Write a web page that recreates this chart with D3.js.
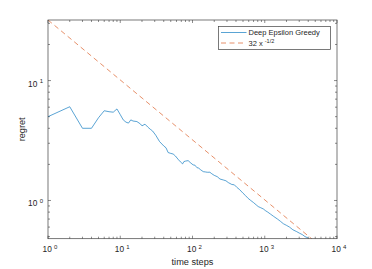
<!DOCTYPE html>
<html>
<head>
<meta charset="utf-8">
<script src="https://cdn.jsdelivr.net/npm/d3@7"></script>
<style>
  body { margin: 0; background: #fff; }
  svg { display: block; font-family: "Liberation Sans", Arial, sans-serif; }
</style>
</head>
<body>
<svg id="chart" width="372" height="269"></svg>
<script>
// (log-log)
const steps = [1, 2, 3, 4, 5, 6, 7, 8, 9, 10, 11, 12, 13, 14, 15, 17, 19, 20, 22, 24, 26, 28, 31, 35, 40, 43, 46, 50, 54, 58, 63, 68, 73, 76, 80, 87, 95, 102, 108, 115, 122, 130, 141, 150, 160, 174, 185, 200, 220, 240, 270, 290, 313, 350, 380, 409, 450, 500, 540, 590, 640, 700, 760, 812, 880, 955, 1030, 1100, 1200, 1314, 1500, 1650, 1810, 2000, 2200, 2450, 2765, 3000, 3300, 3600, 4000];
const regret = [5.0, 6.05, 4.0, 4.0, 4.9, 5.6, 5.5, 5.45, 5.8, 5.2, 4.7, 4.5, 4.42, 4.7, 4.6, 4.55, 4.35, 4.19, 4.33, 4.1, 3.93, 3.8, 3.5, 3.1, 2.85, 2.75, 2.51, 2.47, 2.44, 2.35, 2.21, 2.1, 2.02, 2.11, 2.13, 2.15, 2.05, 1.98, 1.97, 1.88, 1.86, 1.8, 1.74, 1.73, 1.72, 1.72, 1.67, 1.62, 1.58, 1.51, 1.48, 1.46, 1.41, 1.36, 1.35, 1.29, 1.23, 1.15, 1.1, 1.04, 1.0, 0.96, 0.92, 0.89, 0.87, 0.85, 0.82, 0.8, 0.77, 0.74, 0.7, 0.67, 0.64, 0.62, 0.6, 0.57, 0.55, 0.535, 0.52, 0.5, 0.486];
const refCoef = 32; // 32 x^-1/2
const xTickExp = [0, 1, 2, 3, 4];
const yTickExp = [0, 1];
const seriesNames = ["Deep Epsilon Greedy", "32 x"];

const blue = "#0072BD", orange = "#D95319", axisCol = "#404040", textCol = "#262626";

const svg = d3.select("#chart");
const m = {left: 48, top: 20, right: 337, bottom: 238.7};

const x = d3.scaleLog().domain([1, 1e4]).range([m.left, m.right]);
const y = d3.scaleLog().domain([0.48, 32]).range([m.bottom, m.top]);

svg.append("clipPath").attr("id", "clip")
  .append("rect").attr("x", m.left).attr("y", m.top)
  .attr("width", m.right - m.left).attr("height", m.bottom - m.top);

// ticks (inside, on all four sides)
const g = svg.append("g").attr("stroke", axisCol).attr("stroke-width", 0.6);
function minorList(lo, hi) {
  const out = [];
  for (let e = Math.floor(Math.log10(lo)); e <= Math.ceil(Math.log10(hi)); e++) {
    for (let k = 1; k < 10; k++) {
      const v = k * Math.pow(10, e);
      if (v >= lo && v <= hi) out.push({v: v, major: k === 1});
    }
  }
  return out;
}
minorList(1, 1e4).forEach(t => {
  const len = t.major ? 3 : 2;
  const px = x(t.v);
  g.append("line").attr("x1", px).attr("x2", px).attr("y1", m.bottom).attr("y2", m.bottom - len);
  g.append("line").attr("x1", px).attr("x2", px).attr("y1", m.top).attr("y2", m.top + len);
});
minorList(0.48, 32).forEach(t => {
  const len = t.major ? 3 : 2;
  const py = y(t.v);
  g.append("line").attr("y1", py).attr("y2", py).attr("x1", m.left).attr("x2", m.left + len);
  g.append("line").attr("y1", py).attr("y2", py).attr("x1", m.right).attr("x2", m.right - len);
});

// tick labels
xTickExp.forEach(e => {
  const t = svg.append("text").attr("x", x(Math.pow(10, e)) + 2).attr("y", 252)
    .attr("text-anchor", "middle").attr("fill", textCol).attr("font-size", 8.3);
  t.append("tspan").text("10 ");
  t.append("tspan").attr("dy", -3.5).attr("font-size", 6).text(e);
});
yTickExp.forEach(e => {
  const t = svg.append("text").attr("x", 43).attr("y", y(Math.pow(10, e)) + 6)
    .attr("text-anchor", "end").attr("fill", textCol).attr("font-size", 8.3);
  t.append("tspan").text("10 ");
  t.append("tspan").attr("dy", -3.5).attr("font-size", 6).text(e);
});

// axis labels
svg.append("text").attr("x", (m.left + m.right) / 2).attr("y", 265)
  .attr("text-anchor", "middle").attr("fill", textCol).attr("font-size", 9.2).text("time steps");
svg.append("text").attr("transform", `translate(24.5,${(m.top + m.bottom) / 2}) rotate(-90)`)
  .attr("text-anchor", "middle").attr("fill", textCol).attr("font-size", 9.2).text("regret");

// lines
const line = d3.line().x(d => x(d[0])).y(d => y(d[1]));
const plot = svg.append("g").attr("clip-path", "url(#clip)");
const refPts = [1, 4000, 5000].map(s => [s, refCoef / Math.sqrt(s)]);
plot.append("path").datum(refPts).attr("d", line).attr("fill", "none")
  .attr("stroke", orange).attr("stroke-width", 0.65).attr("stroke-dasharray", "5,3.5");
plot.append("path").datum(steps.map((s, i) => [s, regret[i]])).attr("d", line)
  .attr("fill", "none").attr("stroke", blue).attr("stroke-width", 0.65).attr("stroke-linejoin", "round");

// box
svg.append("rect").attr("x", m.left).attr("y", m.top)
  .attr("width", m.right - m.left).attr("height", m.bottom - m.top)
  .attr("fill", "none").attr("stroke", axisCol).attr("stroke-width", 0.7);

// legend
const lg = svg.append("g");
lg.append("rect").attr("x", 218.5).attr("y", 26.5).attr("width", 112).attr("height", 23)
  .attr("fill", "#fff").attr("stroke", axisCol).attr("stroke-width", 0.7);
lg.append("line").attr("x1", 221).attr("x2", 246.5).attr("y1", 32.5).attr("y2", 32.5)
  .attr("stroke", blue).attr("stroke-width", 0.65);
lg.append("line").attr("x1", 221).attr("x2", 246.5).attr("y1", 43).attr("y2", 43)
  .attr("stroke", orange).attr("stroke-width", 0.65).attr("stroke-dasharray", "5,3.5");
lg.append("text").attr("x", 248.5).attr("y", 35.3).attr("fill", textCol).attr("font-size", 7.5)
  .text(seriesNames[0]);
const t2 = lg.append("text").attr("x", 248.5).attr("y", 46).attr("fill", textCol).attr("font-size", 7.5);
t2.append("tspan").text(seriesNames[1] + " ");
t2.append("tspan").attr("dy", -3.2).attr("font-size", 5.5).text("-1/2");
</script>
</body>
</html>
